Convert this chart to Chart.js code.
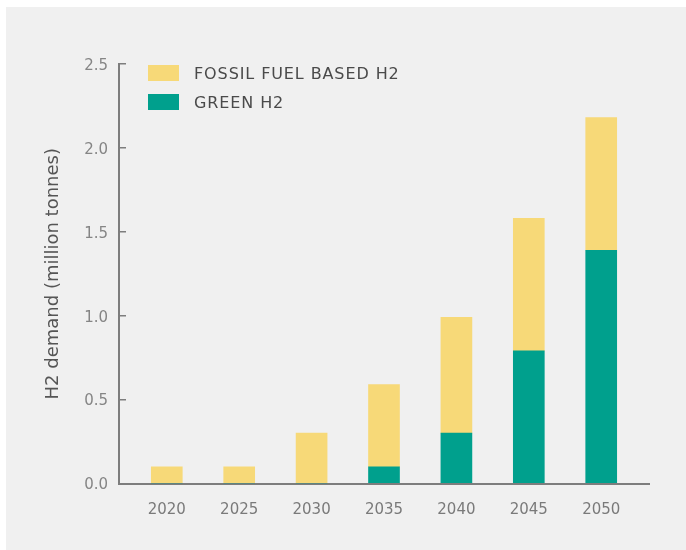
<!DOCTYPE html>
<html>
<head>
<meta charset="utf-8">
<title>H2 demand</title>
<script src="https://cdn.jsdelivr.net/npm/chart.js@4.4.1/dist/chart.umd.min.js"></script>
<style>
  html, body { margin: 0; padding: 0; background: #ffffff; overflow: hidden; }
  #panel {
    position: absolute; left: 6px; top: 7px;
    width: 700px; height: 560px;
    background: #f0f0f0;
  }
  #grafico { position: absolute; left: 0; top: 0; }
  #leyenda {
    position: absolute; left: 142px; top: 58px;
    font-family: 'DejaVu Sans', sans-serif; font-size: 16px;
    letter-spacing: 0.9px; color: #4a4a4a;
  }
  .item { display: flex; align-items: center; height: 16px; margin-bottom: 13px; }
  .caja { width: 31px; height: 16px; margin-right: 15px; }
</style>
</head>
<body>
<div id="panel">
  <canvas id="grafico" width="680" height="543"></canvas>
  <div id="leyenda"></div>
</div>
<script>
// Demanda de H2 por año (millones de toneladas)
const anios = [2020, 2025, 2030, 2035, 2040, 2045, 2050];
const h2Verde = [0, 0, 0, 0.1, 0.3, 0.79, 1.39];
const h2Fosil = [0.1, 0.1, 0.3, 0.49, 0.69, 0.79, 0.79];
const ticksY = [0, 0.5, 1, 1.5, 2, 2.5];

const colorFosil = '#f7d978';
const colorVerde = '#00a08d';
const colorEje = '#7d7d7d';
const fuente = 'DejaVu Sans';

const aPuntos = (valores) => anios.map((a, i) => ({ x: a, y: valores[i] }));

const chart = new Chart(document.getElementById('grafico'), {
  type: 'bar',
  data: {
    datasets: [
      { label: 'GREEN H2', data: aPuntos(h2Verde), backgroundColor: colorVerde, stack: 'h2', barThickness: 31 },
      { label: 'FOSSIL FUEL BASED H2', data: aPuntos(h2Fosil), backgroundColor: colorFosil, stack: 'h2', barThickness: 31 }
    ]
  },
  options: {
    responsive: false,
    animation: false,
    layout: { padding: { top: 57, right: 37, left: 0, bottom: 0 } },
    plugins: {
      legend: { display: false },
      tooltip: { enabled: false }
    },
    scales: {
      x: {
        type: 'linear',
        min: 2016.7,
        max: 2053.3,
        offset: false,
        afterBuildTicks: (scale) => { scale.ticks = anios.map(v => ({ value: v })); },
        afterFit: (scale) => { scale.height = 66.5; },
        grid: { display: false, offset: false },
        border: { display: true, color: colorEje, width: 2 },
        ticks: {
          autoSkip: false,
          maxRotation: 0,
          padding: 10,
          color: '#7a7a7a',
          font: { family: fuente, size: 15 },
          callback: (v) => String(v)
        }
      },
      y: {
        stacked: true,
        min: 0,
        max: 2.5,
        afterBuildTicks: (scale) => { scale.ticks = ticksY.map(v => ({ value: v })); },
        afterFit: (scale) => { scale.width = 113; },
        grid: { drawOnChartArea: false, drawTicks: true, tickLength: -7, color: colorEje, lineWidth: 1.5 },
        border: { display: true, color: colorEje, width: 2 },
        ticks: {
          padding: 18,
          labelOffset: 2,
          color: '#858585',
          font: { family: fuente, size: 15 },
          callback: (v) => v.toFixed(1)
        },
        title: {
          display: true,
          text: 'H2 demand (million tonnes)',
          color: '#555555',
          font: { family: fuente, size: 18 },
          padding: { top: 37, bottom: 0 }
        }
      }
    }
  }
});

// Leyenda en HTML, con el orden inverso al apilado
const etiquetas = Chart.defaults.plugins.legend.labels.generateLabels(chart).reverse();
document.getElementById('leyenda').innerHTML = etiquetas.map(e =>
  `<div class="item"><span class="caja" style="background:${e.fillStyle}"></span><span>${e.text}</span></div>`
).join('');
</script>
</body>
</html>
